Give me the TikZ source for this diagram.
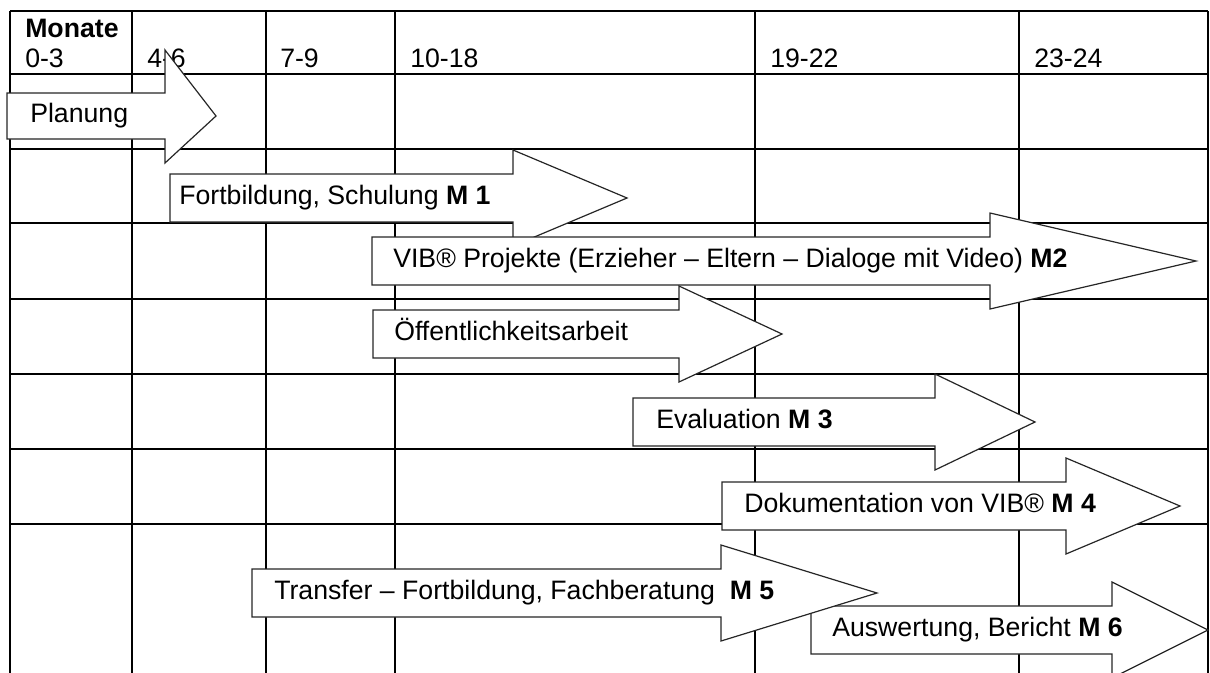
\documentclass[tikz,border=0pt]{standalone}
\usepackage{fontspec}
\setmainfont{Liberation Sans}
\usepackage{tikz}
\usetikzlibrary{positioning}

\begin{document}
\begin{tikzpicture}[
    x=0.75pt, y=-0.75pt,
    gridline/.style={line width=1.5pt, black},
    blockarrow/.style={draw=black!85, line width=0.9pt, fill=white, line join=miter},
    headtext/.style={anchor=base west, inner sep=0pt, font=\fontsize{20}{24}\selectfont},
    bartext/.style={anchor=base west, inner sep=0pt, font=\fontsize{20}{24}\selectfont}
]
\useasboundingbox (0,0) rectangle (1210,672);
\clip (0,0) rectangle (1210,672);

% Table
\foreach \x in {10,132,266,395,755,1019,1208}
    \draw[gridline] (\x,11) -- (\x,690);
\foreach \y in {11,74,149,223,299,374,449,524}
    \draw[gridline] (10,\y) -- (1208,\y);

% Header
\node[headtext] (mon) at (25,37) {\textbf{Monate}};
\node[headtext] (m03) at (25,67) {0-3};
\node[headtext] (m46) at (147,67) {4-6};
\node[headtext] (m79) at (280,67) {7-9};
\node[headtext] (m1018) at (410,67) {10-18};
\node[headtext] (m1922) at (770,67) {19-22};
\node[headtext] (m2324) at (1034,67) {23-24};

% Planung
\draw[blockarrow] (7,93) -- (165,93) -- (165,50) -- (216,116) -- (165,163) -- (165,139) -- (7,139) -- cycle;
\node[bartext] (plan) at (30,122) {Planung};

% Fortbildung M 1
\draw[blockarrow] (170,174) -- (513,174) -- (513,150) -- (627,198) -- (513,246) -- (513,222) -- (170,222) -- cycle;
\node[bartext] (fort) at (179,204) {Fortbildung, Schulung \textbf{M 1}};

% VIB Projekte M2
\draw[blockarrow] (372,237) -- (990,237) -- (990,213) -- (1196,261) -- (990,309) -- (990,285) -- (372,285) -- cycle;
\node[bartext] (vib) at (393,267) {VIB® Projekte (Erzieher – Eltern – Dialoge mit Video) \textbf{M2}};

% Oeffentlichkeitsarbeit
\draw[blockarrow] (373,310) -- (679,310) -- (679,286) -- (782,334) -- (679,382) -- (679,358) -- (373,358) -- cycle;
\node[bartext] (oeff) at (394,340) {Öffentlichkeitsarbeit};

% Evaluation M 3
\draw[blockarrow] (633,398) -- (935,398) -- (935,374) -- (1035,422) -- (935,470) -- (935,446) -- (633,446) -- cycle;
\node[bartext] (eval) at (656,428) {Evaluation \textbf{M 3}};

% Dokumentation M 4
\draw[blockarrow] (722,482) -- (1066,482) -- (1066,458) -- (1180,506) -- (1066,554) -- (1066,530) -- (722,530) -- cycle;
\node[bartext] (doku) at (744,512) {Dokumentation von VIB® \textbf{M 4}};

% Auswertung M 6
\draw[blockarrow] (811,606) -- (1112,606) -- (1112,582) -- (1208,630) -- (1112,678) -- (1112,654) -- (811,654) -- cycle;
\node[bartext] (ausw) at (832,636) {Auswertung, Bericht \textbf{M 6}};

% Transfer M 5
\draw[blockarrow] (252,569) -- (721,569) -- (721,545) -- (877,593) -- (721,641) -- (721,617) -- (252,617) -- cycle;
\node[bartext] (trans) at (274,599) {Transfer – Fortbildung, Fachberatung\ \ \textbf{M 5}};

\end{tikzpicture}
\end{document}
